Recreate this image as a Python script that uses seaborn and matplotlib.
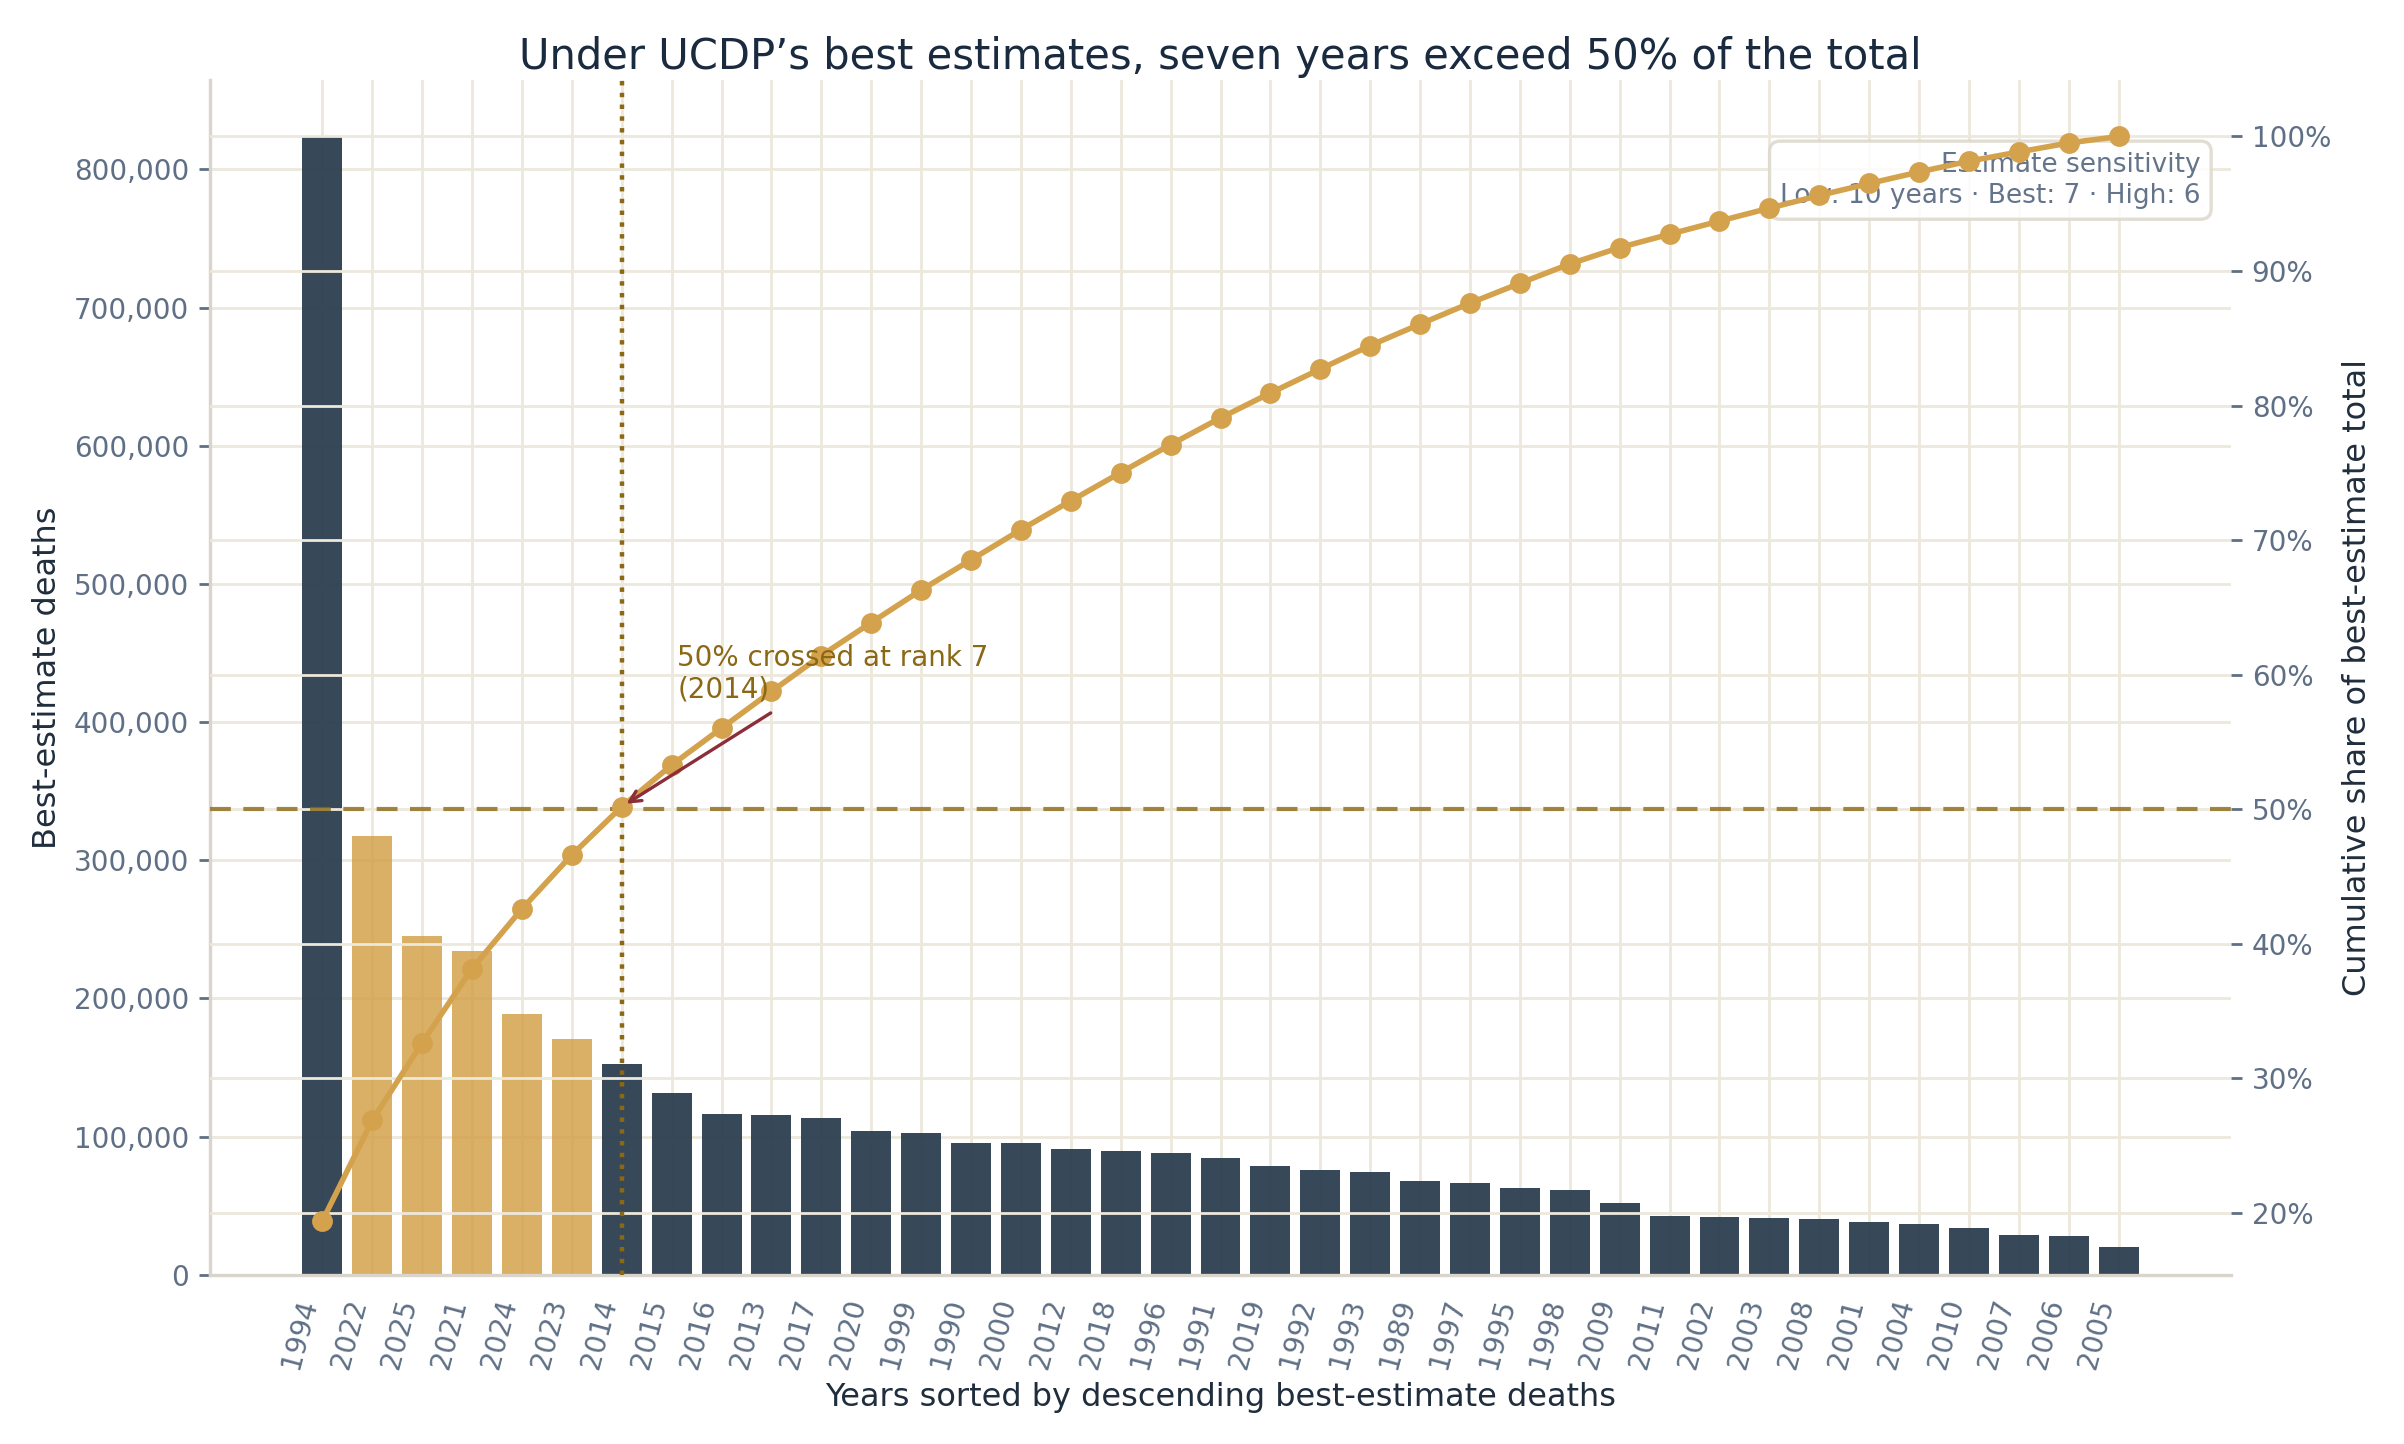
import numpy as np
import pandas as pd
import matplotlib
matplotlib.use("Agg")
import matplotlib.pyplot as plt
from matplotlib.ticker import FuncFormatter
import seaborn as sns

# ---- data ----
years = ["1994", "2022", "2025", "2021", "2024", "2023", "2014", "2015", "2016", "2013",
         "2017", "2020", "1999", "1990", "2000", "2012", "2018", "1996", "1991", "2019",
         "1992", "1993", "1989", "1997", "1995", "1998", "2009", "2011", "2002", "2003",
         "2008", "2001", "2004", "2010", "2007", "2006", "2005"]
deaths = [823600, 317900, 245100, 234500, 188600, 170400, 152200, 131800, 116500, 115800,
          113600, 104100, 102700, 95400, 95400, 91000, 89600, 88100, 84500, 78600,
          75700, 74300, 67700, 66300, 62600, 61200, 51700, 42200, 41500, 40800,
          40000, 37900, 36400, 34200, 29100, 28400, 20400]
highlight_years = ["2021", "2022", "2023", "2024", "2025"]
left_ticks = [0, 100000, 200000, 300000, 400000, 500000, 600000, 700000, 800000]
right_ticks = [20, 30, 40, 50, 60, 70, 80, 90, 100]
sensitivity = {"Low": "10 years", "Best": "7", "High": "6"}

df = pd.DataFrame({"year": years, "deaths": deaths})
df["cum_share"] = df["deaths"].cumsum() / df["deaths"].sum() * 100
cross_idx = int(np.argmax(df["cum_share"].values >= 50))

NAVY = "#2c3e50"
GOLD = "#d4a24c"
OLIVE = "#8b6914"
GRID = "#ece8dc"
TICK = "#5f6f85"
TEXT = "#1f2d3d"

sns.set_theme(style="white")
plt.rcParams["font.family"] = ["DejaVu Sans"]

fig = plt.figure(figsize=(12.02, 7.22), dpi=200)
left, right, bottom, top = 0.0874, 0.928, 0.1172, 0.9446
ax = fig.add_axes([left, bottom, right - left, top - bottom])

palette = {y: (GOLD if y in highlight_years else NAVY) for y in years}
sns.barplot(data=df, x="year", y="deaths", hue="year", palette=palette, order=years,
            hue_order=years, legend=False, width=0.8, saturation=1, ax=ax, zorder=2)
for p, y in zip(ax.patches, years):
    p.set_alpha(0.85 if y in highlight_years else 0.95)
    p.set_linewidth(0)

ax.set_axisbelow(True)
ax.grid(True, color=GRID, linewidth=1.0)
ax.set_ylim(0, max(deaths) * 1.05)
ax.set_yticks(left_ticks)
ax.yaxis.set_major_formatter(FuncFormatter(lambda v, p: f"{int(v):,}"))
ax.set_xlim(-2.25, len(years) - 1 + 2.25)
ax.tick_params(axis="both", colors=TICK, labelsize=10, length=4, width=1)
for lab in ax.get_xticklabels():
    lab.set_rotation(75)
    lab.set_ha("right")
ax.set_xlabel("Years sorted by descending best-estimate deaths", fontsize=11.5, color=TEXT)
ax.set_ylabel("Best-estimate deaths", fontsize=11.5, color=TEXT)
for s in ["top", "right"]:
    ax.spines[s].set_visible(False)
for s in ["left", "bottom"]:
    ax.spines[s].set_color("#d9d5cc")
    ax.spines[s].set_linewidth(1.2)

ax.text(0.985, 0.94,
        "Estimate sensitivity\n" + " · ".join(f"{k}: {v}" for k, v in sensitivity.items()),
        transform=ax.transAxes, ha="right", va="top", fontsize=9.5, color="#64748b",
        linespacing=1.25,
        bbox=dict(boxstyle="round,pad=0.4", facecolor="white", edgecolor="#dcd8cc",
                  alpha=0.85, linewidth=1.2))

ax2 = ax.twinx()
sns.pointplot(data=df, x="year", y="cum_share", order=years, color=GOLD, ax=ax2,
              markers="o", markersize=6, linewidth=2, errorbar=None)
ax2.set_xlim(-2.25, len(years) - 1 + 2.25)
ax2.set_ylim(df["cum_share"].min() - 4, 104.2)
ax2.set_yticks(right_ticks)
ax2.yaxis.set_major_formatter(FuncFormatter(lambda v, p: f"{v:.0f}%"))
ax2.grid(True, axis="y", color=GRID, linewidth=1.0)
ax2.grid(False, axis="x")
ax2.tick_params(axis="y", colors=TICK, labelsize=10, length=4, width=1)
ax2.set_ylabel("Cumulative share of best-estimate total", fontsize=11.5, color=TEXT)
for s in ["top", "right", "left", "bottom"]:
    ax2.spines[s].set_visible(False)

ax2.axhline(50, color=OLIVE, linestyle=(0, (5, 3)), linewidth=1.5, alpha=0.8, zorder=1)
ax2.axvline(cross_idx, color=OLIVE, linestyle=":", linewidth=1.6, zorder=1)
ax2.annotate(f"50% crossed at rank {cross_idx + 1}\n({years[cross_idx]})",
             xy=(cross_idx, df["cum_share"].iloc[cross_idx]),
             xytext=(20, 37), textcoords="offset points", ha="left", va="bottom",
             fontsize=10, color=OLIVE,
             arrowprops=dict(arrowstyle="->", color="#8b2e3a", linewidth=1.2))

ax.set_title("Under UCDP’s best estimates, seven years exceed 50% of the total",
             fontsize=15, color="#1a2b40", pad=4)

fig.savefig("out.png", dpi=200)
